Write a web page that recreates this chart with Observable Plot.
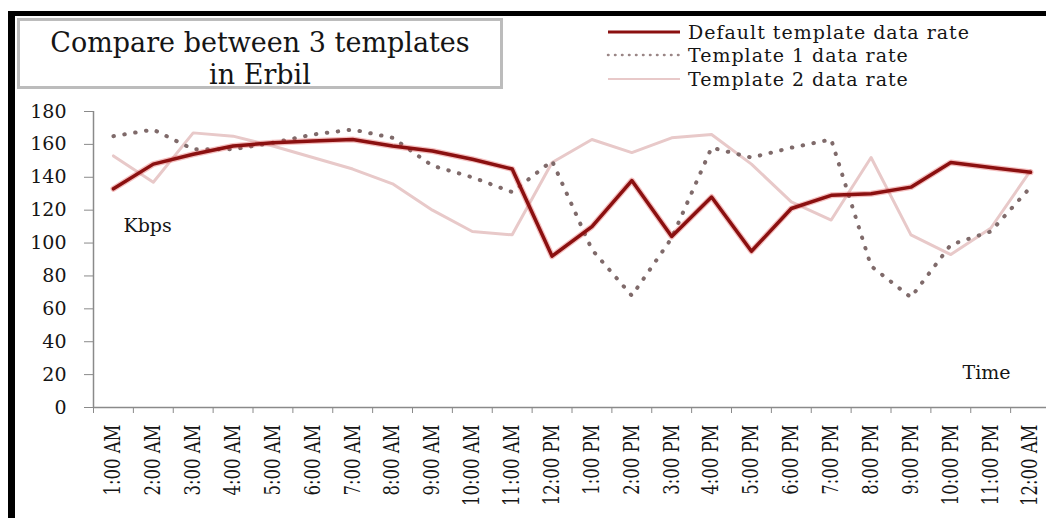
<!DOCTYPE html>
<html>
<head>
<meta charset="utf-8">
<script src="https://cdn.jsdelivr.net/npm/d3@7"></script>
<script src="https://cdn.jsdelivr.net/npm/@observablehq/plot@0.6"></script>
<style>
  body { margin: 0; background: #fff; }
  #wrap { position: relative; width: 1046px; height: 518px; overflow: hidden; font-family: "DejaVu Serif", serif; background: #fff; }
  #wrap > svg { position: absolute; left: 0; top: 0; }
  .frame { position: absolute; left: 8px; top: 11px; right: -20px; bottom: -20px; border-top: 5px solid #000; border-left: 7px solid #000; pointer-events: none; }
  .title { position: absolute; left: 17px; top: 18px; width: 486px; height: 71px; box-sizing: border-box; border: 3px solid #bcbcbc; text-align: center; font-size: 27px; letter-spacing: 0px; line-height: 32px; padding-top: 6px; color: #151515; }
  .legend { position: absolute; left: 606px; top: 20px; font-size: 19px; letter-spacing: 1px; color: #151515; }
  .legend .row { display: flex; align-items: center; height: 23.5px; white-space: nowrap; }
  .legend .row svg { margin-right: 6px; }
</style>
</head>
<body>
<div id="wrap"></div>
<script>
// ---- data ----
const times = ["1:00 AM","2:00 AM","3:00 AM","4:00 AM","5:00 AM","6:00 AM","7:00 AM","8:00 AM","9:00 AM","10:00 AM","11:00 AM","12:00 PM",
               "1:00 PM","2:00 PM","3:00 PM","4:00 PM","5:00 PM","6:00 PM","7:00 PM","8:00 PM","9:00 PM","10:00 PM","11:00 PM","12:00 AM"];
const defaultRate = [133, 148, 154, 159, 161, 162, 163, 159, 156, 151, 145, 92, 110, 138, 104, 128, 95, 121, 129, 130, 134, 149, 146, 143];
const template1Rate = [165, 169, 157, 157, 161, 166, 169, 164, 147, 140, 131, 150, 96, 68, 103, 158, 152, 158, 163, 86, 67, 99, 107, 134];
const template2Rate = [153, 137, 167, 165, 159, 152, 145, 136, 120, 107, 105, 149, 163, 155, 164, 166, 148, 125, 114, 152, 105, 93, 109, 144];
const seriesNames = ["Default template data rate", "Template 1 data rate", "Template 2 data rate"];
const yTicks = [0, 20, 40, 60, 80, 100, 120, 140, 160, 180];
const titleLines = ["Compare between 3 templates", "in Erbil"];
const yLabel = "Kbps";
const xLabel = "Time";

// ---- styles ----
const styles = [
  {stroke: "#8b1010", strokeWidth: 3.5},
  {stroke: "#7f6a6a", strokeWidth: 4, strokeDasharray: "0.5,10.5", strokeLinecap: "round"},
  {stroke: "#e8c9c9", strokeWidth: 3}
];

const idx = times.map((_, i) => i);
const boundaries = d3.range(times.length + 1).map(i => i - 0.5);
const axisGray = "#8a8a8a";

const chart = Plot.plot({
  width: 1046,
  height: 518,
  marginLeft: 93,
  marginRight: -4,
  marginTop: 111,
  marginBottom: 111,
  style: {fontFamily: '"DejaVu Serif", serif', background: "transparent", color: "#151515"},
  x: {domain: [-0.5, times.length - 0.5], axis: null},
  y: {domain: [0, 180], axis: null},
  marks: [
    Plot.ruleY([0], {stroke: axisGray, strokeWidth: 1.5}),
    Plot.ruleX([-0.5], {stroke: axisGray, strokeWidth: 1.5}),
    Plot.axisY({ticks: yTicks, anchor: "left", tickSize: 9, tickPadding: 18, fontSize: 19, stroke: axisGray, fill: "#151515", label: null}),
    Plot.axisX({ticks: idx, anchor: "bottom", tickSize: 0, tickPadding: 17, tickRotate: -90, tickFormat: i => times[i], fontSize: 16.5, fill: "#151515", label: null}),
    Plot.axisX({ticks: boundaries, anchor: "bottom", tickSize: 6, tickFormat: () => "", stroke: axisGray, label: null}),
    Plot.line(idx, {x: i => i, y: i => template2Rate[i], ...styles[2]}),
    Plot.line(idx, {x: i => i, y: i => template1Rate[i], ...styles[1]}),
    Plot.line(idx, {x: i => i, y: i => defaultRate[i], stroke: "#e04848", strokeOpacity: 0.35, strokeWidth: 6}),
    Plot.line(idx, {x: i => i, y: i => defaultRate[i], ...styles[0]}),
    Plot.text([yLabel], {text: d => d, frameAnchor: "left", textAnchor: "start", dx: 30, dy: -34, fontSize: 19, fill: "#151515"}),
    Plot.text([xLabel], {text: d => d, frameAnchor: "bottom-right", textAnchor: "end", dx: -40, dy: -29, fontSize: 19, fill: "#151515"})
  ]
});

// widen the rotated hour labels a little (glyph height across the page)
d3.select(chart).selectAll('g[aria-label="x-axis tick label"] text').each(function () {
  const t = this.getAttribute("transform") || "";
  this.setAttribute("transform", t + " scale(1,1.3)");
});

const wrap = document.getElementById("wrap");
wrap.appendChild(chart);

// title box
const title = document.createElement("div");
title.className = "title";
title.innerHTML = titleLines.join("<br>");
wrap.appendChild(title);

// legend
const legend = document.createElement("div");
legend.className = "legend";
seriesNames.forEach((name, k) => {
  const row = document.createElement("div");
  row.className = "row";
  const s = styles[k];
  const sw = k === 1 ? 2.5 : (k === 0 ? 3 : 2);
  const dash = k === 1 ? 'stroke-dasharray="0.5,6.5" stroke-linecap="round"' : "";
  row.innerHTML = `<svg width="76" height="10"><line x1="2" x2="74" y1="5" y2="5" stroke="${k === 1 ? "#9a8686" : s.stroke}" stroke-width="${sw}" ${dash}></line></svg><span>${name}</span>`;
  legend.appendChild(row);
});
wrap.appendChild(legend);

// page frame
const frame = document.createElement("div");
frame.className = "frame";
wrap.appendChild(frame);
</script>
</body>
</html>
